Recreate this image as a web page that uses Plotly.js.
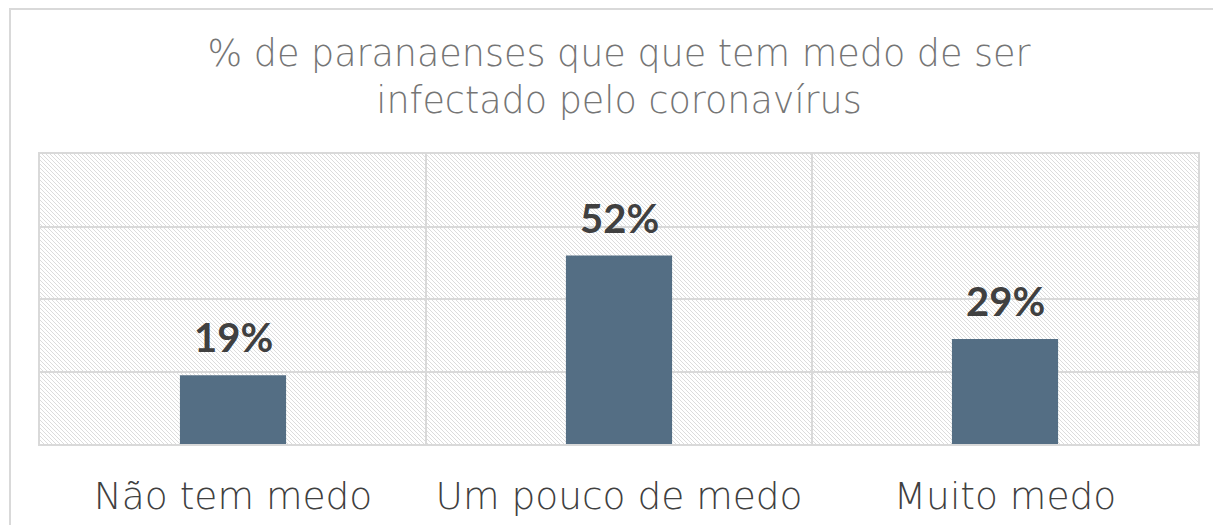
<!DOCTYPE html>
<html>
<head>
<meta charset="utf-8">
<script src="https://cdn.plot.ly/plotly-3.0.1.min.js"></script>
<style>html,body{margin:0;padding:0;background:#fff;}#chart{width:1213px;height:525px;}</style>
</head>
<body>
<div id="chart"></div>
<script>
const categories = ["Não tem medo", "Um pouco de medo", "Muito medo"];
const values = [0.19, 0.52, 0.29];
const labels = ["19%", "52%", "29%"];
const titleText = "% de paranaenses que que tem medo de ser<br>infectado pelo coronavírus";

const W = 1158, H = 290;
let lines = "";
for (let k = -H; k < W + H; k += 4) {
  lines += `<line x1="${k}" y1="0" x2="${k + H}" y2="${H}" />`;
}
const svg = `<svg xmlns="http://www.w3.org/2000/svg" width="${W}" height="${H}" viewBox="0 0 ${W} ${H}" preserveAspectRatio="none"><rect width="${W}" height="${H}" fill="#ffffff"/><g stroke="#dcdcdc" stroke-width="1">${lines}</g></svg>`;
const imgSrc = "data:image/svg+xml;charset=utf-8," + encodeURIComponent(svg);

const lightFam = "'DejaVu Sans', sans-serif";
const boldFam = "Lato, 'Open Sans', sans-serif";

const trace = {
  type: "bar",
  x: categories,
  y: values,
  width: 0.275,
  marker: {color: "#546E84"},
  hoverinfo: "skip"
};

const annotations = categories.map((c, i) => ({
  x: c, y: values[i], xref: "x", yref: "y",
  text: "<b>" + labels[i] + "</b>",
  showarrow: false, yanchor: "bottom", yshift: 12,
  font: {family: boldFam, size: 40, color: "#404040"}
}));

const layout = {
  width: 1213, height: 525,
  margin: {l: 40, r: 15, t: 154, b: 81},
  paper_bgcolor: "#ffffff",
  plot_bgcolor: "rgba(0,0,0,0)",
  showlegend: false,
  title: {
    text: titleText,
    x: 0.5, xanchor: "center", xref: "paper",
    y: 0.875, yanchor: "top",
    font: {family: lightFam, size: 36.5, weight: 200, color: "#757575"}
  },
  xaxis: {
    type: "category",
    tickson: "boundaries",
    showgrid: true, gridcolor: "#d9d9d9", gridwidth: 2,
    showline: true, linecolor: "#d9d9d9", linewidth: 2, mirror: true,
    ticks: "", ticklen: 0,
    ticklabelstandoff: 18,
    tickfont: {family: lightFam, size: 37.5, weight: 200, color: "#404040"},
    fixedrange: true
  },
  yaxis: {
    range: [0, 0.8], dtick: 0.2,
    showgrid: true, gridcolor: "#d9d9d9", gridwidth: 2,
    showline: true, linecolor: "#d9d9d9", linewidth: 2, mirror: true,
    zeroline: false,
    showticklabels: false, ticks: "",
    fixedrange: true
  },
  images: [{
    source: imgSrc, xref: "paper", yref: "paper",
    x: 0, y: 1, sizex: 1, sizey: 1, sizing: "stretch",
    xanchor: "left", yanchor: "top", layer: "below"
  }],
  shapes: [{
    type: "rect", xref: "paper", yref: "paper",
    x0: -0.0259, x1: 1.2, y0: -0.5, y1: 1.5,
    line: {color: "#d9d9d9", width: 2}, fillcolor: "rgba(0,0,0,0)", layer: "below"
  }],
  annotations: annotations
};

Plotly.newPlot("chart", [trace], layout, {displayModeBar: false, staticPlot: true});
</script>
</body>
</html>
